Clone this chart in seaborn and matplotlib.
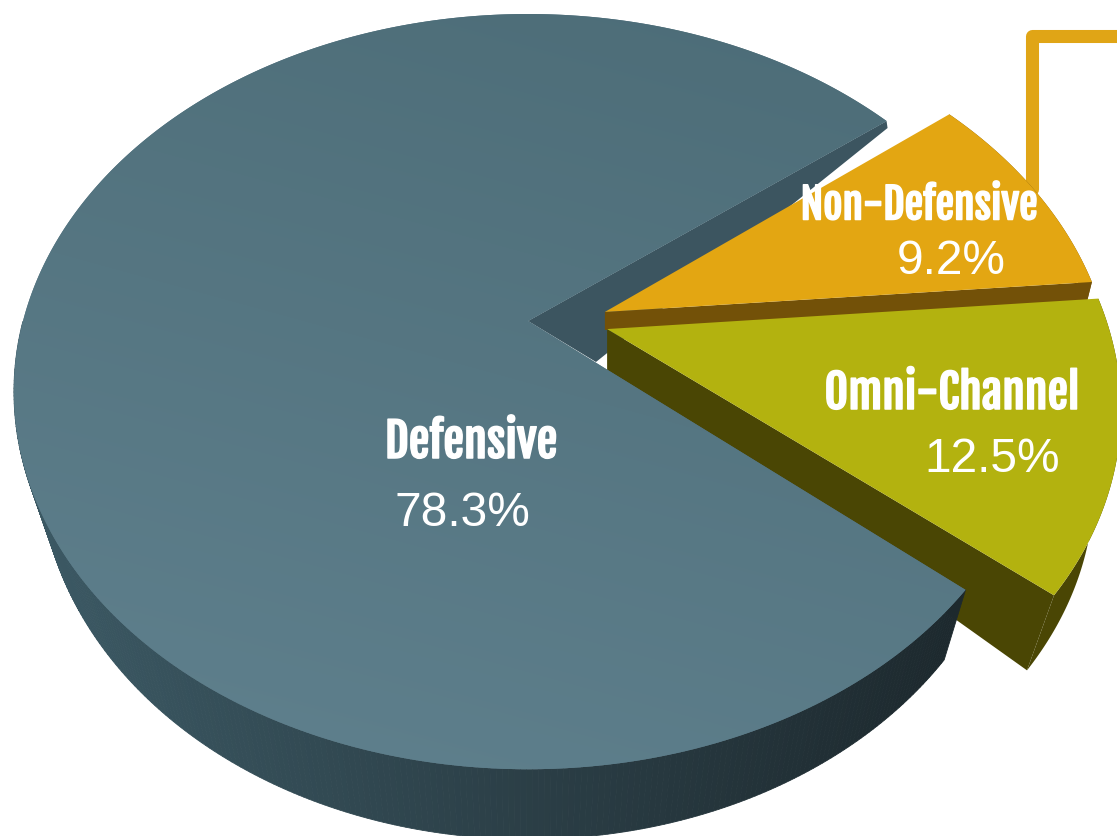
import numpy as np
import matplotlib
matplotlib.use("Agg")
import matplotlib.pyplot as plt
import matplotlib.patheffects as pe
from matplotlib.patches import Polygon
import seaborn as sns

# Market share by segment
categories = ["Defensive", "Non-Defensive", "Omni-Channel"]
shares = [78.3, 9.2, 12.5]

W, H = 1117, 837
sns.set_theme(style="white")
plt.rcParams["font.family"] = ["Liberation Sans", "DejaVu Sans"]

# Perspective projection of the unit disc onto the canvas
HUB = (528.0, 322.0)
SX, SY, PERSP = 505.0, 364.4, 0.187


def project(u, v):
    u, v = np.asarray(u, float), np.asarray(v, float)
    w = 1 + PERSP * v
    return HUB[0] + SX * u / w, HUB[1] - SY * v / w


def arc(a0, a1, n=240):
    t = np.radians(np.linspace(a0, a1, n))
    return np.cos(t), np.sin(t)


fig = plt.figure(figsize=(W / 100, H / 100), dpi=100)
ax = fig.add_axes([0, 0, 1, 1])
ax.set_xlim(0, W)
ax.set_ylim(H, 0)
ax.axis("off")

# Leader running off towards the detail panel
ax.plot([1031.5, 1031.5, W + 20], [190, 37, 37], color="#E0A516", lw=9.4,
        solid_joinstyle="round", zorder=1)

# Slice angles follow the shares, clockwise from the back edge of the large slice
START = 37.7
sweep = [s * 3.6 for s in shares]
def_a0, def_a1 = START, START + sweep[0]
non_a0, non_a1 = 38.0, 38.0 - sweep[1]
omni_a0, omni_a1 = non_a1, non_a1 - sweep[2]

NON_SHIFT = (0.153, 0.025)
OMNI_SHIFT = (0.156, -0.022)
DETACHED_RADIUS = 0.99

# Inner wall of the large slice, seen through the gap
ru, rv = project(*arc(START, START, 1))
wall = [HUB, (ru[0], rv[0]), (ru[0] + 1, rv[0] + 7), (HUB[0] + 68, HUB[1] + 41)]
ax.add_patch(Polygon(wall, closed=True, fc="#3C5560", ec="none", zorder=2))


def draw_slice(a0, a1, shift, top, side, hub_off, rim_off, z):
    u, v = arc(a0, a1)
    x, y = project(DETACHED_RADIUS * u + shift[0], DETACHED_RADIUS * v + shift[1])
    hx, hy = project(shift[0], shift[1])
    # rim band
    ax.fill(np.r_[x, (x + rim_off[0])[::-1]], np.r_[y, (y + rim_off[1])[::-1]],
            color=side, lw=0, zorder=z)
    # cut face along the lower edge
    ax.fill([hx, x[-1], x[-1] + rim_off[0], hx + hub_off[0]],
            [hy, y[-1], y[-1] + rim_off[1], hy + hub_off[1]],
            color=side, lw=0, zorder=z)
    # top face
    ax.fill(np.r_[hx, x], np.r_[hy, y], color=top, lw=0, zorder=z + 0.1)


draw_slice(non_a0, non_a1, NON_SHIFT, "#E3A612", "#735108", (0, 18), (-5, 20), 3)
draw_slice(omni_a0, omni_a1, OMNI_SHIFT, "#B3B20F", "#4A4604", (0, 42), (-27, 75), 4)

# Large slice: rim band shaded left to right, then the top face
u, v = arc(def_a0, def_a1, 500)
x, y = project(u, v)
dy = np.clip(52 - 72 * v, 8, 70)
dx = 0.049 * (530 - x) * dy / 70
side_cmap = sns.blend_palette(["#3B5863", "#2C4048", "#1D292E"], n_colors=256, as_cmap=True)
for i in range(len(x) - 1):
    if v[i] > 0:
        continue
    c = side_cmap(np.clip((x[i] - 40) / 920, 0, 1))
    ax.fill([x[i], x[i + 1], x[i + 1] + dx[i + 1], x[i] + dx[i]],
            [y[i], y[i + 1], y[i + 1] + dy[i + 1], y[i] + dy[i]],
            color=c, ec=c, lw=0.6, zorder=5)

top_outline = Polygon(np.c_[np.r_[HUB[0], x], np.r_[HUB[1], y]], closed=True,
                      fc="#547380", ec="none", transform=ax.transData, zorder=6)
ax.add_patch(top_outline)
gx, gy = np.meshgrid(np.linspace(0, 1, 120), np.linspace(0, 1, 90))
shade = np.clip(0.95 * gy + 0.35 * (1 - gx) - 0.12, 0, 1)
top_cmap = sns.blend_palette(["#4D6D78", "#5E7F8C"], n_colors=256, as_cmap=True)
im = ax.imshow(shade, cmap=top_cmap, extent=(0, W, H, 0), aspect="auto",
               interpolation="bilinear", vmin=0, vmax=1, zorder=6.1)
im.set_clip_path(top_outline)
ax.set_xlim(0, W)
ax.set_ylim(H, 0)

# Labels
name_font = dict(family=["Fjalla One", "Liberation Sans"],
                 color="white", ha="center", va="center", zorder=8,
                 path_effects=[pe.withStroke(linewidth=1.1, foreground="white")])
pct_font = dict(family=["Liberation Sans"], color="white", ha="center", va="center", zorder=8)
name_pos = [(471, 443), (919, 206), (952, 395)]
name_size = [33.5, 30, 33]
pct_pos = [(462, 514), (951, 261), (992, 459)]
for name, share, np_, ns, pp in zip(categories, shares, name_pos, name_size, pct_pos):
    ax.text(*np_, name, fontsize=ns, **name_font)
    ax.text(*pp, f"{share:.1f}%", fontsize=34.5, **pct_font)

fig.savefig("out.png", dpi=100, facecolor="white")
